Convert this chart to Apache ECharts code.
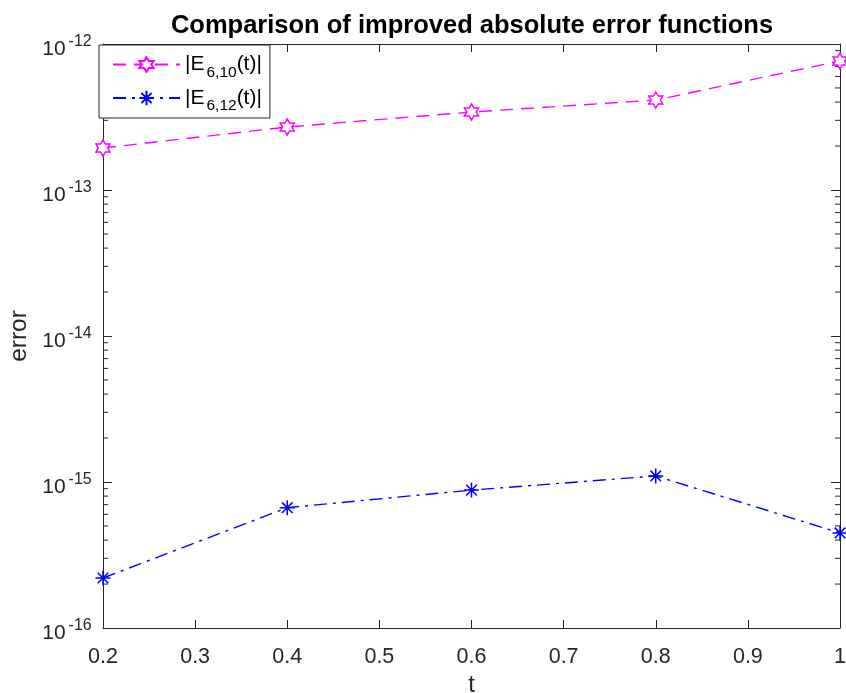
<!DOCTYPE html>
<html><head><meta charset="utf-8">
<script src="https://cdn.jsdelivr.net/npm/echarts@6/dist/echarts.min.js"></script>
<style>html,body{margin:0;padding:0;background:#fff}#c{width:846px;height:693px}</style>
</head><body><div id="c"></div>
<script>
const tValues = [0.2, 0.4, 0.6, 0.8, 1.0];
const err610 = [1.94e-13, 2.70e-13, 3.42e-13, 4.13e-13, 7.65e-13];
const err612 = [2.20e-16, 6.67e-16, 8.8e-16, 1.10e-15, 4.48e-16];
const xTicks = [0.2, 0.3, 0.4, 0.5, 0.6, 0.7, 0.8, 0.9, 1];
const yTickExponents = [-16, -15, -14, -13, -12];
const minorMultipliers = [2, 3, 4, 5, 6, 7, 8, 9];

const hexagram = 'path://M0,-10L-2.887,-5L-8.66,-5L-5.774,0L-8.66,5L-2.887,5L0,10L2.887,5L8.66,5L5.774,0L8.66,-5L2.887,-5Z';
const asterisk = 'path://M0,-10L0,10M-10,0L10,0M-7.07,-7.07L7.07,7.07M-7.07,7.07L7.07,-7.07';
const font = 'Liberation Sans, Arial, Helvetica, sans-serif';
const axisColor = '#262626';

const minorTickValues = [];
yTickExponents.slice(0, -1).forEach(e => minorMultipliers.forEach(k => minorTickValues.push(k * Math.pow(10, e))));

const chart = echarts.init(document.getElementById('c'));
const yAxisBase = {
  type: 'log', logBase: 10, min: 1e-16, max: 1e-12,
  axisLine: {show: true, onZero: false, lineStyle: {color: axisColor, width: 1}},
  axisTick: {show: true, inside: true, length: 9, lineStyle: {color: axisColor}},
  minorTick: {show: false},
  splitLine: {show: false}
};
const xAxisBase = {
  type: 'value', min: 0.2, max: 1, interval: 0.1,
  axisLine: {show: true, onZero: false, lineStyle: {color: axisColor, width: 1}},
  axisTick: {show: true, inside: true, length: 8, lineStyle: {color: axisColor}},
  splitLine: {show: false}
};
chart.setOption({
  animation: false,
  backgroundColor: '#fff',
  title: {
    text: 'Comparison of improved absolute error functions',
    left: 467, top: 8, textAlign: 'center',
    textStyle: {fontFamily: font, fontSize: 25.5, fontWeight: 'bold', color: '#000'}
  },
  grid: {left: 103, right: 6, top: 44, bottom: 65, containLabel: false, outerBoundsMode: 'none'},
  legend: {
    left: 99, top: 45, orient: 'vertical',
    itemWidth: 67, itemHeight: 18, itemGap: 7,
    padding: [9, 8, 4, 13],
    borderColor: axisColor, borderWidth: 1, backgroundColor: '#fff',
    textStyle: {
      fontFamily: font, fontSize: 21, color: '#000',
      rich: {
        m: {fontFamily: font, fontSize: 21, color: '#000'},
        s: {fontFamily: font, fontSize: 15.5, color: '#000', verticalAlign: 'bottom', padding: [16, 0, 0, 2]}
      }
    },
    formatter: function (name) {
      return name === 'e610' ? '{m||E}{s|6,10}{m|(t)|}' : '{m||E}{s|6,12}{m|(t)|}';
    },
    data: ['e610', 'e612']
  },
  xAxis: [
    Object.assign({}, xAxisBase, {
      position: 'bottom',
      name: 't', nameLocation: 'middle', nameGap: 39,
      nameTextStyle: {fontFamily: font, fontSize: 24, color: axisColor},
      axisLabel: {fontFamily: font, fontSize: 21.5, color: axisColor, margin: 18,
        formatter: function (v) { return String(Math.round(v * 10) / 10); }}
    }),
    Object.assign({}, xAxisBase, {position: 'top', axisLabel: {show: false}})
  ],
  yAxis: [
    Object.assign({}, yAxisBase, {
      position: 'left',
      name: 'error', nameLocation: 'middle', nameGap: 67, nameRotate: 90,
      nameTextStyle: {fontFamily: font, fontSize: 24.5, color: axisColor},
      axisLabel: {
        fontFamily: font, fontSize: 21, color: axisColor, margin: 11,
        padding: [6, 0, 0, 0],
        formatter: function (v) { return '{b|10}{p|' + Math.round(Math.log10(v)) + '}{s| }'; },
        rich: {
          b: {fontFamily: font, fontSize: 21, lineHeight: 21, color: axisColor, verticalAlign: 'bottom'},
          p: {fontFamily: font, fontSize: 16, lineHeight: 16, color: axisColor, verticalAlign: 'top', padding: [0, 0, 0, 3]},
          s: {fontFamily: font, fontSize: 1, lineHeight: 26, color: axisColor}
        }
      }
    }),
    Object.assign({}, yAxisBase, {position: 'right', axisLabel: {show: false}})
  ],
  series: [
    {
      name: 'minorTicks', type: 'custom', silent: true, z: 1,
      xAxisIndex: 0, yAxisIndex: 0, clip: false,
      data: minorTickValues.map(v => [0.2, v]),
      renderItem: function (params, api) {
        const left = api.coord([0.2, api.value(1)]);
        const right = api.coord([1, api.value(1)]);
        const style = {stroke: axisColor, lineWidth: 1};
        return {type: 'group', children: [
          {type: 'line', shape: {x1: left[0], y1: left[1], x2: left[0] + 5, y2: left[1]}, style: style},
          {type: 'line', shape: {x1: right[0] - 5, y1: right[1], x2: right[0], y2: right[1]}, style: style}
        ]};
      }
    },
    {
      name: 'e610', type: 'line',
      data: tValues.map((t, i) => [t, err610[i]]),
      symbol: hexagram, symbolSize: [14, 16], showAllSymbol: true,
      lineStyle: {color: '#ff00ff', width: 1.4, type: [13, 8]},
      itemStyle: {color: '#ffffff', borderColor: '#ff00ff', borderWidth: 1.5},
      color: '#ff00ff', z: 3,
      emphasis: {disabled: true}, clip: false
    },
    {
      name: 'e612', type: 'line',
      data: tValues.map((t, i) => [t, err612[i]]),
      symbol: asterisk, symbolSize: 15, showAllSymbol: true,
      lineStyle: {color: '#0000ff', width: 1.4, type: [13, 6, 3, 6]},
      itemStyle: {color: 'none', borderColor: '#0000ff', borderWidth: 1.5},
      color: '#0000ff', z: 3,
      emphasis: {disabled: true}, clip: false
    }
  ]
});
</script></body></html>
